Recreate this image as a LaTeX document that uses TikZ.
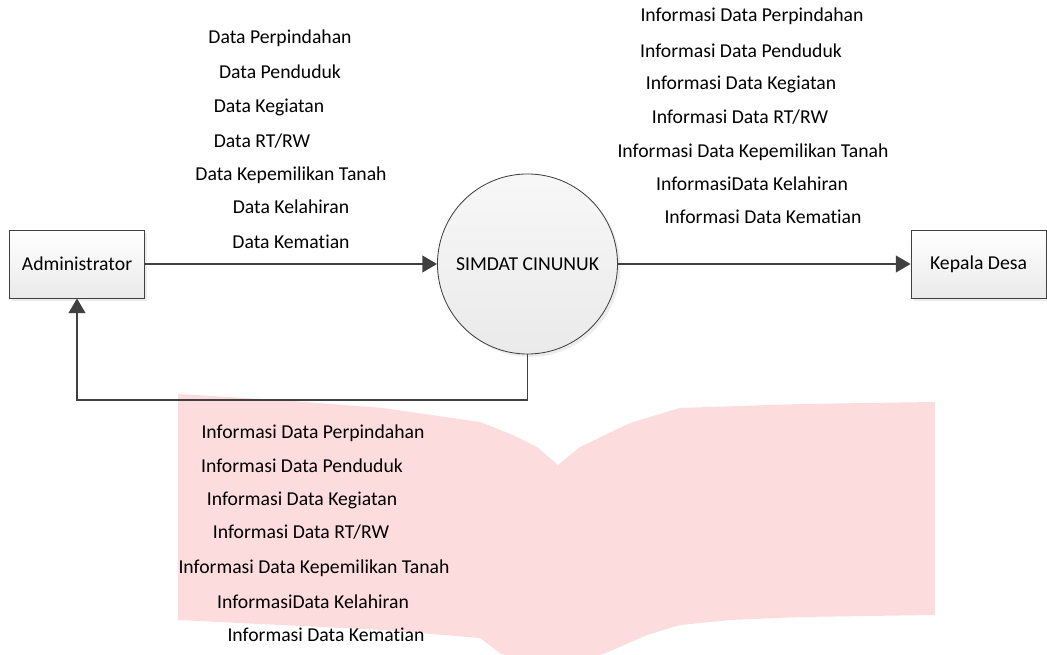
\documentclass[tikz,border=0pt]{standalone}
\usepackage{fontspec}
\setmainfont{Carlito}[Ligatures=NoCommon]
\usetikzlibrary{arrows.meta,shadows}
\definecolor{linegray}{RGB}{64,64,64}
\definecolor{boxgray}{RGB}{234,234,234}
\definecolor{bookpink}{RGB}{253,220,221}

\begin{document}
\begin{tikzpicture}[x=0.025cm,y=-0.025cm,>={Triangle[length=0.37cm,width=0.42cm]},
	every node/.style={font=\fontsize{14}{17}\selectfont},
	flow/.style={draw=linegray,line width=1.4pt,->},
	entity/.style={draw=linegray,line width=0.6pt,minimum width=3.375cm,minimum height=1.7cm,
		top color=white,bottom color=boxgray,drop shadow={shadow xshift=2pt,shadow yshift=-2pt,fill=gray!30}},
	proc/.style={circle,draw=linegray,line width=0.6pt,minimum size=4.5cm,inner sep=0pt,
		top color=white!97!black,bottom color=boxgray,drop shadow={shadow xshift=2pt,shadow yshift=-2pt,fill=gray!30}},
	lbl/.style={anchor=base,inner sep=0pt}]
		\useasboundingbox (0,0) rectangle (1047,655);
		% pink sheet behind the lower labels
		\fill[bookpink] (178,394) -- (280,400) -- (383,408) -- (480,422) -- (513,435) -- (537,447) -- (558,465)
			-- (580,447) -- (630,423) -- (680,408) -- (800,404) -- (935,402) -- (935,615) -- (800,617)
			-- (730,620) -- (680,625) -- (647,635) -- (613,650) -- (600,655) -- (505,655) -- (500,653)
			-- (480,638) -- (383,630) -- (178,620) -- cycle;
		\node[entity] (admin) at (77,264) {Administrator};
		\node[proc] (simdat) at (527.5,264) {SIMDAT CINUNUK};
		\node[entity] (kades) at (978.5,264) {Kepala Desa};
		\draw[flow] (admin) -- (simdat);
		\draw[flow] (simdat) -- (kades);
		\draw[flow] (simdat.south) -- ++(0,46) -| (admin.south);
		% data masuk
		\node[lbl] (d1) at (280,44) {Data Perpindahan};
		\node[lbl] (d2) at (280,79) {Data Penduduk};
		\node[lbl] (d3) at (269,113) {Data Kegiatan};
		\node[lbl] (d4) at (262,148) {Data RT/RW};
		\node[lbl] (d5) at (291,181) {Data Kepemilikan Tanah};
		\node[lbl] (d6) at (291,214) {Data Kelahiran};
		\node[lbl] (d7) at (291,249) {Data Kematian};
		% informasi ke kepala desa
		\node[lbl] (k1) at (752,22) {Informasi Data Perpindahan};
		\node[lbl] (k2) at (741,58) {Informasi Data Penduduk};
		\node[lbl] (k3) at (741,90) {Informasi Data Kegiatan};
		\node[lbl] (k4) at (740,124) {Informasi Data RT/RW};
		\node[lbl] (k5) at (753,158) {Informasi Data Kepemilikan Tanah};
		\node[lbl] (k6) at (752,191) {InformasiData Kelahiran};
		\node[lbl] (k7) at (763,224) {Informasi Data Kematian};
		% informasi ke administrator
		\node[lbl] (a1) at (313,439) {Informasi Data Perpindahan};
		\node[lbl] (a2) at (302,473) {Informasi Data Penduduk};
		\node[lbl] (a3) at (302,506) {Informasi Data Kegiatan};
		\node[lbl] (a4) at (301,539) {Informasi Data RT/RW};
		\node[lbl] (a5) at (314,573) {Informasi Data Kepemilikan Tanah};
		\node[lbl] (a6) at (313,608) {InformasiData Kelahiran};
		\node[lbl] (a7) at (326,642) {Informasi Data Kematian};
	\end{tikzpicture}
\end{document}
